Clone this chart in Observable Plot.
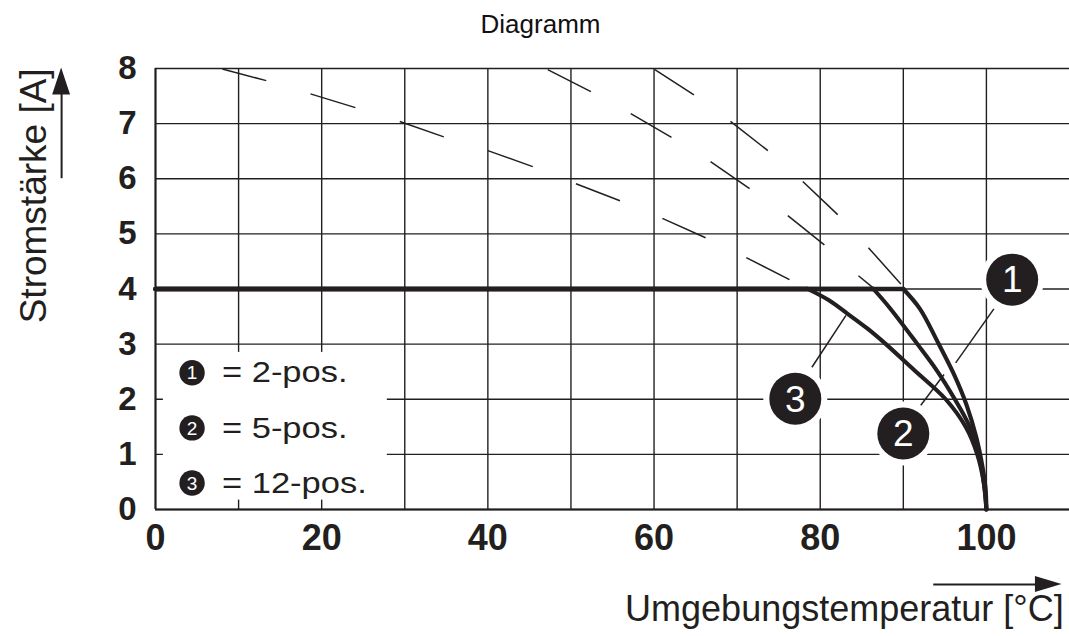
<!DOCTYPE html>
<html>
<head>
<meta charset="utf-8">
<script src="https://cdn.jsdelivr.net/npm/d3@7"></script>
<script src="https://cdn.jsdelivr.net/npm/@observablehq/plot@0.6"></script>
<style>
  html, body { margin: 0; padding: 0; background: #fff; }
  #chart svg { display: block; }
</style>
</head>
<body>
<div id="chart"></div>
<script>
// ---------- data ----------
const seriesIds    = ["1", "2", "3"];
const seriesLabels = ["2-pos.", "5-pos.", "12-pos."];
const ratedCurrent = 4;

const xTicks = [0, 20, 40, 60, 80, 100];
const xGrid  = [0, 10, 20, 30, 40, 50, 60, 70, 80, 90, 100];
const yTicks = [0, 1, 2, 3, 4, 5, 6, 7, 8];

// solid derating curves (below 4 A)
const curve1X = [90, 92, 94.2, 96.1, 97.6, 98.8, 99.5, 99.9, 100];
const curve1Y = [4, 3.64, 3.02, 2.45, 1.9, 1.3, 0.8, 0.38, 0];
const curve2X = [86.4, 88.3, 91.7, 94.0, 96.2, 98.0, 99.1, 99.7, 100];
const curve2Y = [4, 3.67, 3.0, 2.53, 2.0, 1.5, 1.0, 0.47, 0];
const curve3X = [78.5, 81, 83.3, 85.7, 87.9, 91.3, 95.1, 97.5, 98.9, 99.7, 100];
const curve3Y = [4, 3.8, 3.55, 3.28, 3.0, 2.53, 2.0, 1.5, 1.0, 0.47, 0];

// dashed extensions above 4 A: consecutive pairs are the ends of one dash
const dash1 = [[60.1, 7.98], [64.8, 7.52], [69.2, 7.04], [73.7, 6.51], [77.9, 5.95], [82.1, 5.35], [85.8, 4.75], [89.7, 4.09]];
const dash2 = [[47.2, 7.98], [52.4, 7.58], [57.2, 7.18], [62.1, 6.75], [66.8, 6.31], [71.5, 5.82], [76.1, 5.33], [80.5, 4.80], [84.6, 4.24], [86.3, 4.03]];
const dash3 = [[8.04, 7.99], [13.33, 7.78], [18.65, 7.54], [24.06, 7.29], [29.4, 7.04], [34.7, 6.76], [40.0, 6.51], [45.4, 6.22], [50.6, 5.91], [55.9, 5.60], [61.0, 5.28], [66.2, 4.93], [71.1, 4.57], [76.3, 4.17]];

// ---------- build tables ----------
const curvesX = [curve1X, curve2X, curve3X];
const curvesY = [curve1Y, curve2Y, curve3Y];
const dashes  = [dash1, dash2, dash3];

const curvePts = [];
seriesIds.forEach((s, i) => curvesX[i].forEach((x, j) => curvePts.push({s, x, y: curvesY[i][j]})));
const flatPts = [];
seriesIds.forEach((s, i) => { flatPts.push({s, x: 0, y: ratedCurrent}); flatPts.push({s, x: curvesX[i][0], y: ratedCurrent}); });
const dashSegs = [];
seriesIds.forEach((s, i) => { const d = dashes[i]; for (let k = 0; k + 1 < d.length; k += 2) dashSegs.push({s, x1: d[k][0], y1: d[k][1], x2: d[k+1][0], y2: d[k+1][1]}); });

// annotation layout (positions of callouts / legend, not data)
const callouts = [
  {s: "1", cx: 103.1, cy: 4.17, lx1: 100.9, ly1: 3.64, lx2: 96.3, ly2: 2.66},
  {s: "2", cx: 90.0,  cy: 1.38, lx1: 92.1,  ly1: 1.89, lx2: 94.9, ly2: 2.45},
  {s: "3", cx: 77.0,  cy: 2.01, lx1: 79.0,  ly1: 2.58, lx2: 83.1, ly2: 3.52}
];
const legendRows = seriesIds.map((s, i) => ({s, label: "= " + seriesLabels[i], y: 2.48 - i}));

const ink = "#231f20";
const font = "'Liberation Sans', Arial, Helvetica, sans-serif";

const chart = Plot.plot({
  width: 1069,
  height: 636,
  marginLeft: 155,
  marginRight: 0,
  marginTop: 68,
  marginBottom: 127,
  style: {fontFamily: font, background: "#fff", overflow: "visible"},
  x: {domain: [0, 110], axis: null},
  y: {domain: [0, 8], axis: null},
  marks: [
    // grid + frame
    Plot.ruleY(yTicks, {x1: 0, x2: 110, stroke: ink, strokeWidth: 1.4}),
    Plot.ruleX(xGrid, {y1: 0, y2: 8, stroke: ink, strokeWidth: 1.4}),
    Plot.ruleY([0], {x1: 0, x2: 110, stroke: ink, strokeWidth: 2.2}),
    Plot.ruleX([0], {y1: 0, y2: 8, stroke: ink, strokeWidth: 2}),
    // white legend panel
    Plot.rect([0], {x1: 0.95, x2: 27.9, y1: 0.17, y2: 2.85, fill: "white"}),
    // dashed extensions
    Plot.link(dashSegs, {x1: "x1", y1: "y1", x2: "x2", y2: "y2", stroke: ink, strokeWidth: 1.5}),
    // rated current plateau
    Plot.line(flatPts, {x: "x", y: "y", z: "s", stroke: ink, strokeWidth: 4.6}),
    // derating curves
    Plot.line(curvePts, {x: "x", y: "y", z: "s", stroke: ink, strokeWidth: 4.1, curve: "catmull-rom"}),
    // callouts
    Plot.link(callouts, {x1: "lx1", y1: "ly1", x2: "lx2", y2: "ly2", stroke: ink, strokeWidth: 1.5}),
    Plot.dot(callouts, {x: "cx", y: "cy", r: 32, fill: "white", stroke: "none"}),
    Plot.dot(callouts, {x: "cx", y: "cy", r: 26, fill: ink, stroke: "none"}),
    Plot.text(callouts, {x: "cx", y: "cy", text: "s", fill: "white", fontSize: 37, lineAnchor: "middle", dy: 1}),
    // legend
    Plot.dot(legendRows, {x: 4.4, y: "y", r: 12.7, fill: ink, stroke: "none"}),
    Plot.text(legendRows, {x: 4.4, y: "y", text: "s", fill: "white", fontSize: 19, lineAnchor: "middle", dy: 0.5}),
    Plot.text(legendRows, {x: 8.0, y: "y", text: "label", fill: ink, fontSize: 30, textAnchor: "start", lineAnchor: "middle"}),
    // tick labels
    Plot.text(xTicks, {x: d => d, y: 0, text: d => String(d), dy: 29, fontSize: 36, fontWeight: "bold", fill: ink, lineAnchor: "middle"}),
    Plot.text(yTicks, {x: 0, y: d => d, text: d => String(d), dx: -19, fontSize: 33, fontWeight: "bold", fill: ink, textAnchor: "end", lineAnchor: "middle"}),
    // axis titles
    Plot.text(["Umgebungstemperatur [°C]"], {x: 109.3, y: -1.82, text: d => d, fontSize: 36, fill: ink, textAnchor: "end", lineAnchor: "middle"}),
    Plot.text(["Stromstärke [A]"], {x: -14.6, y: 5.69, text: d => d, fontSize: 37, fill: ink, rotate: -90, textAnchor: "middle", lineAnchor: "middle"}),
    // axis arrows
    Plot.link([0], {x1: 93.6, x2: 106.2, y1: -1.36, y2: -1.36, stroke: ink, strokeWidth: 2}),
    Plot.areaX([{y: -1.36 - 0.145, x1: 105.9, x2: 105.9}, {y: -1.36, x1: 105.9, x2: 109.1}, {y: -1.36 + 0.145, x1: 105.9, x2: 105.9}], {y: "y", x1: "x1", x2: "x2", fill: ink}),
    Plot.link([0], {x1: -11.3, x2: -11.3, y1: 6.01, y2: 7.6, stroke: ink, strokeWidth: 2}),
    Plot.areaY([{x: -11.3 - 1.08, y1: 7.52, y2: 7.52}, {x: -11.3, y1: 7.52, y2: 8.01}, {x: -11.3 + 1.08, y1: 7.52, y2: 7.52}], {x: "x", y1: "y1", y2: "y2", fill: ink}),
    // title
    Plot.text(["Diagramm"], {frameAnchor: "top-left", text: d => d, dx: 385, dy: -44, fontSize: 26, fill: "#111", textAnchor: "middle", lineAnchor: "middle"})
  ]
});

document.getElementById("chart").append(chart);

// the reference legend lettering is wider than the font: widen it a little
chart.querySelectorAll("text").forEach(t => {
  if (t.textContent.startsWith("= ")) {
    const L = t.getComputedTextLength();
    if (L > 0) {
      t.setAttribute("textLength", (L * 1.15).toFixed(1));
      t.setAttribute("lengthAdjust", "spacingAndGlyphs");
    }
  }
});
</script>
</body>
</html>
